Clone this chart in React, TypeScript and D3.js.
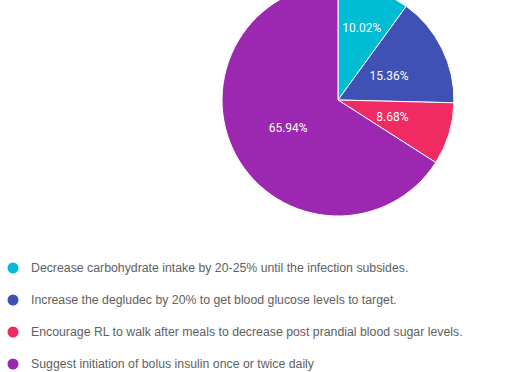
import { useEffect, useRef } from 'react'
import * as d3 from 'd3'

const categories = [
  'Decrease carbohydrate intake by 20-25% until the infection subsides.',
  'Increase the degludec by 20% to get blood glucose levels to target.',
  'Encourage RL to walk after meals to decrease post prandial blood sugar levels.',
  'Suggest initiation of bolus insulin once or twice daily',
]
const values = [10.02, 15.36, 8.68, 65.94]
const colors = ['#00bcd4', '#3f51b5', '#f02a62', '#9c27b0']

export default function App() {
  const ref = useRef<SVGSVGElement>(null)

  useEffect(() => {
    const width = 526
    const height = 372
    const cx = 338
    const cy = 100
    const radius = 116

    const svg = d3.select(ref.current)
    svg.selectAll('*').remove()

    const data = categories.map((c, i) => ({ label: c, value: values[i], color: colors[i] }))
    const total = d3.sum(values)

    const pie = d3.pie<any>().value(d => d.value).sort(null)
    const arc = d3.arc<any>().innerRadius(0).outerRadius(radius)

    const g = svg.append('g').attr('transform', `translate(${cx},${cy})`)
    const arcs = pie(data)

    g.selectAll('path')
      .data(arcs)
      .join('path')
      .attr('d', arc)
      .attr('fill', d => d.data.color)
      .attr('stroke', '#fff')
      .attr('stroke-width', 1)

    // narrow slices get their label pushed outward
    g.selectAll('text')
      .data(arcs)
      .join('text')
      .attr('transform', d => {
        const share = d.data.value / total
        const r = share < 0.12 && d.startAngle < 1 ? radius * 0.66 : radius * 0.49
        const a = (d.startAngle + d.endAngle) / 2
        return `translate(${Math.sin(a) * r},${-Math.cos(a) * r + 0.5})`
      })
      .attr('text-anchor', 'middle')
      .attr('dy', '0.35em')
      .style('fill', '#fff')
      .style('font-family', 'Roboto, sans-serif')
      .style('font-size', '12px')
      .text(d => `${d.data.value.toFixed(2)}%`)

    // Legend
    const legend = svg.append('g').attr('transform', 'translate(13, 268)')
    data.forEach((d, i) => {
      const row = legend.append('g').attr('transform', `translate(0, ${i * 32})`)
      row.append('circle').attr('r', 5.5).attr('fill', d.color)
      row.append('text')
        .attr('x', 18)
        .attr('dy', '0.35em')
        .style('fill', '#616161')
        .style('font-family', '"Liberation Sans", Arial, sans-serif')
        .style('font-size', '12.3px')
        .text(d.label)
    })

    svg.attr('width', width).attr('height', height)
  }, [])

  return (
    <div style={{ position: 'absolute', left: 0, top: 0, width: 526, height: 372, background: '#fff' }}>
      <svg ref={ref} width={526} height={372} style={{ display: 'block' }} />
    </div>
  )
}
